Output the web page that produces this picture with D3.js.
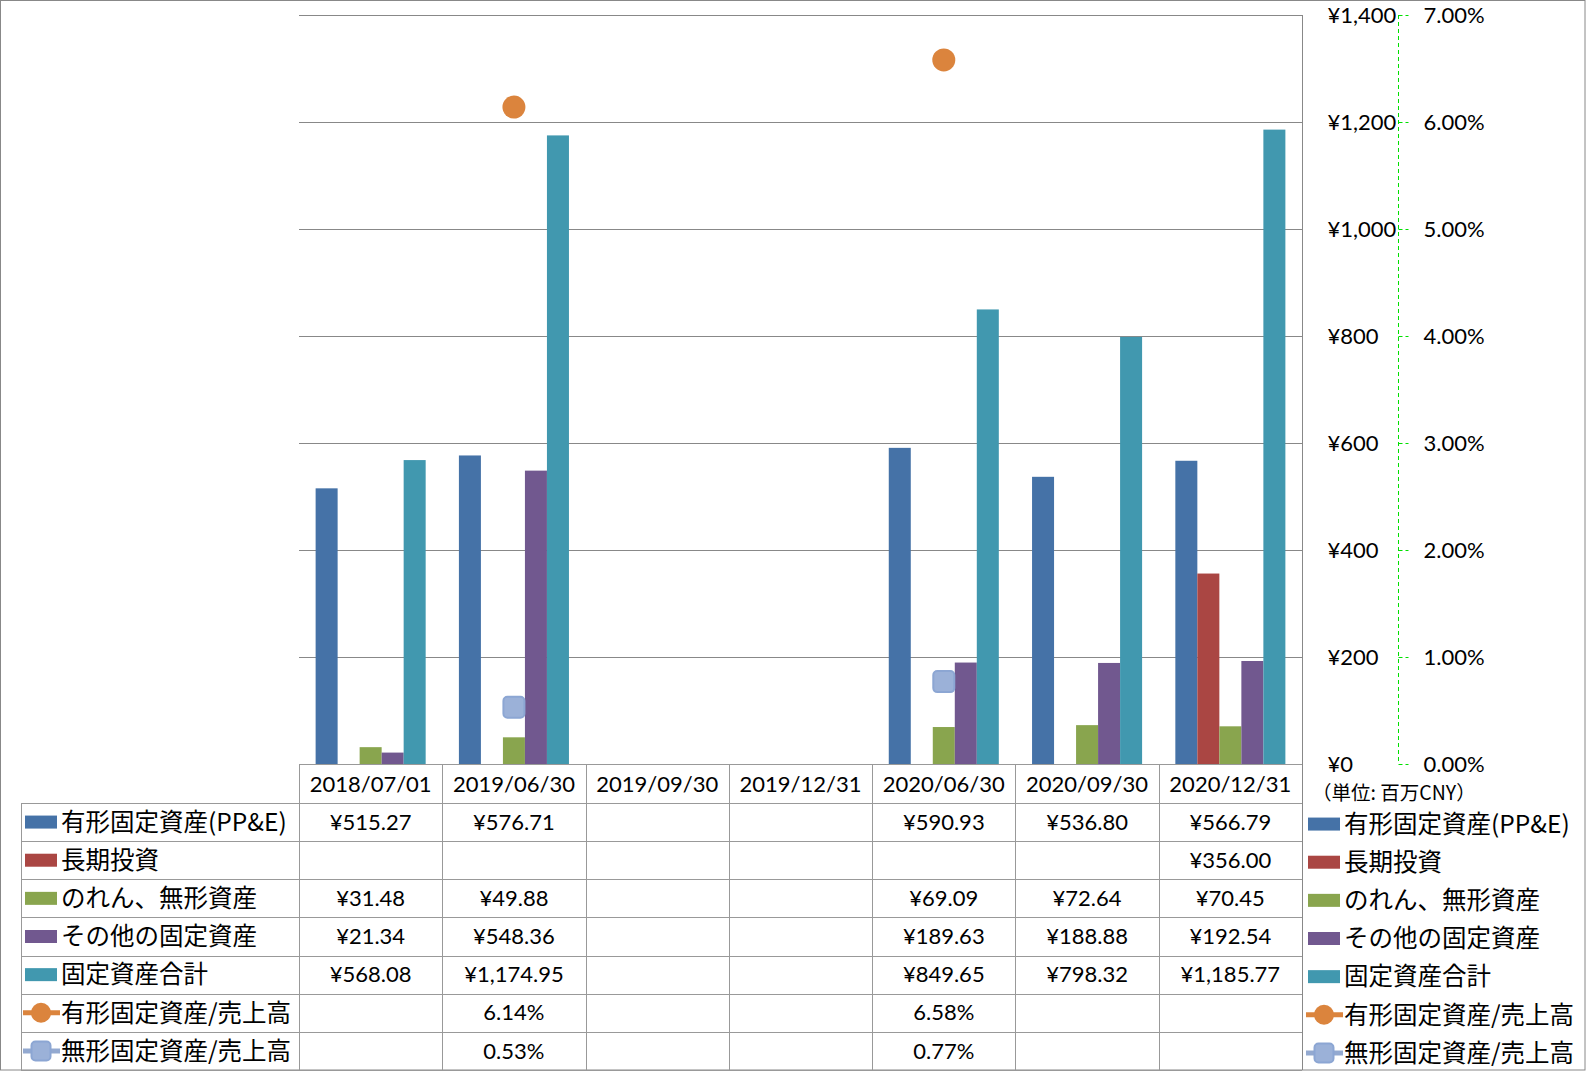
<!DOCTYPE html>
<html><head><meta charset="utf-8">
<script src="https://cdn.jsdelivr.net/npm/d3@7"></script>
<style>
html,body{margin:0;padding:0;background:#fff;}
svg{display:block;}
</style></head>
<body><svg id="chart" width="1586" height="1071"></svg>
<script>
// ---- data ----
const categories = ["2018/07/01","2019/06/30","2019/09/30","2019/12/31","2020/06/30","2020/09/30","2020/12/31"];
const ppe        = [515.27, 576.71, null, null, 590.93, 536.80, 566.79];
const longInv    = [null, null, null, null, null, null, 356.00];
const goodwill   = [31.48, 49.88, null, null, 69.09, 72.64, 70.45];
const otherFixed = [21.34, 548.36, null, null, 189.63, 188.88, 192.54];
const totalFixed = [568.08, 1174.95, null, null, 849.65, 798.32, 1185.77];
const ppeRatio        = [null, 0.0614, null, null, 0.0658, null, null];
const intangibleRatio = [null, 0.0053, null, null, 0.0077, null, null];
const barNames  = ["有形固定資産(PP&E)","長期投資","のれん、無形資産","その他の固定資産","固定資産合計"];
const lineNames = ["有形固定資産/売上高","無形固定資産/売上高"];
const yTicks  = [0,200,400,600,800,1000,1200,1400];
const y2Ticks = [0,0.01,0.02,0.03,0.04,0.05,0.06,0.07];
const unitLabel = "（単位: 百万CNY）";

const barSeries = [ppe, longInv, goodwill, otherFixed, totalFixed];
const lineSeries = [ppeRatio, intangibleRatio];
const barColors = ["#4572a7","#aa4643","#89a54e","#71588f","#4198af"];
const lineColors = ["#db843d","#93a9d0"];

// ---- layout ----
const W = 1586, H = 1071;
const plotL = 299, plotR = 1302, plotT = 15, plotB = 764;
const tableL = 21, tableB = 1070;
const rowH = (tableB - 803) / 7;
const latin = "Lato, 'Noto Sans CJK JP', sans-serif";
const cjk = "'Noto Sans CJK JP', sans-serif";

const svg = d3.select("#chart");
svg.append("rect").attr("x",0.5).attr("y",0.5).attr("width",W-1.5).attr("height",H-1.5)
  .attr("fill","#fff").attr("stroke","#888").attr("stroke-width",1);

const x = d3.scaleBand().domain(categories).range([plotL, plotR]);
const barGroupW = x.bandwidth() * 0.768;
const xs = d3.scaleBand().domain(d3.range(barSeries.length))
  .range([(x.bandwidth()-barGroupW)/2, (x.bandwidth()+barGroupW)/2]);
const y = d3.scaleLinear().domain([0,1400]).range([plotB, plotT]);
const y2 = d3.scaleLinear().domain([0,0.07]).range([plotB, plotT]);

// gridlines
svg.append("g").selectAll("line").data(yTicks.filter(d=>d>0)).join("line")
  .attr("x1",plotL).attr("x2",plotR)
  .attr("y1",d=>Math.round(y(d))+0.5).attr("y2",d=>Math.round(y(d))+0.5)
  .attr("stroke","#888").attr("stroke-width",1);

// bars
barSeries.forEach((vals,si)=>{
  svg.append("g").selectAll("rect").data(vals.map((v,i)=>({v,c:categories[i]})).filter(d=>d.v!=null))
    .join("rect")
    .attr("x",d=>x(d.c)+xs(si))
    .attr("width",xs.bandwidth())
    .attr("y",d=>y(d.v))
    .attr("height",d=>plotB-y(d.v))
    .attr("fill",barColors[si]);
});

// markers
const markerSize = 23;
svg.append("g").selectAll("circle")
  .data(ppeRatio.map((v,i)=>({v,c:categories[i]})).filter(d=>d.v!=null))
  .join("circle")
  .attr("cx",d=>x(d.c)+x.bandwidth()/2).attr("cy",d=>y2(d.v)).attr("r",markerSize/2)
  .attr("fill","#db843d");
svg.append("g").selectAll("rect")
  .data(intangibleRatio.map((v,i)=>({v,c:categories[i]})).filter(d=>d.v!=null))
  .join("rect")
  .attr("x",d=>x(d.c)+x.bandwidth()/2-markerSize/2+1).attr("y",d=>y2(d.v)-markerSize/2+1)
  .attr("width",markerSize-2).attr("height",markerSize-2).attr("rx",4)
  .attr("fill","#9bb1d8").attr("stroke","#8ca6d3").attr("stroke-width",2);

// primary axis (right side)
const axisY = d3.axisRight(y).tickValues(yTicks).tickSize(0)
  .tickFormat(d=>"¥"+d3.format(",")(d));
const gy = svg.append("g").attr("transform",`translate(${plotR+0.5},0)`).call(axisY);
gy.select(".domain").attr("stroke","#888").attr("d",`M0,${plotT}V${tableB}`);
gy.selectAll("text").attr("x",25).attr("text-anchor","start")
  .attr("font-family",latin).attr("font-size",22).attr("fill","#000");

// secondary axis
const axisY2 = d3.axisRight(y2).tickValues(y2Ticks).tickSize(10).tickPadding(15)
  .tickFormat(d3.format(".2%"));
const gy2 = svg.append("g").attr("transform",`translate(1398.5,0)`).call(axisY2);
gy2.select(".domain").attr("stroke","#00e000").attr("stroke-dasharray","4,3").attr("d",`M0,${plotT}V${plotB}`);
gy2.selectAll(".tick line").attr("stroke","#00e000").attr("stroke-dasharray","4,3");
gy2.selectAll("text").attr("font-family",latin).attr("font-size",22).attr("fill","#000").attr("text-anchor","start");

svg.append("text").attr("x",1312).attr("y",793).attr("dy","0.35em")
  .attr("font-family",cjk).attr("font-size",19.5).attr("fill","#000").text(unitLabel);

// ---- data table ----
const tg = svg.append("g");
const gridC = "#999";
tg.append("line").attr("x1",plotL).attr("x2",plotR).attr("y1",plotB+0.5).attr("y2",plotB+0.5).attr("stroke",gridC);
d3.range(8).forEach(i=>{
  const yy = Math.round(803 + i*rowH)+0.5;
  tg.append("line").attr("x1",tableL).attr("x2",plotR).attr("y1",yy).attr("y2",yy).attr("stroke",gridC);
});
categories.forEach(c=>{
  tg.append("line").attr("x1",Math.round(x(c))+0.5).attr("x2",Math.round(x(c))+0.5)
    .attr("y1",plotB).attr("y2",tableB).attr("stroke",gridC);
});
tg.append("line").attr("x1",tableL+0.5).attr("x2",tableL+0.5).attr("y1",803).attr("y2",tableB).attr("stroke",gridC);

tg.selectAll("text.hdr").data(categories).join("text").attr("class","hdr")
  .attr("x",d=>x(d)+x.bandwidth()/2).attr("y",(plotB+803)/2+1).attr("dy","0.35em")
  .attr("text-anchor","middle").attr("font-family",latin).attr("font-size",22).attr("fill","#000")
  .text(d=>d);

const allSeries = barSeries.concat(lineSeries);
const allNames = barNames.concat(lineNames);
const fmtMoney = v=>"¥"+d3.format(",.2f")(v);
const fmtPct = d3.format(".2%");

allSeries.forEach((vals,si)=>{
  const cy = 803 + si*rowH + rowH/2;
  const isLine = si >= barSeries.length;
  tg.append("g").selectAll("text").data(vals.map((v,i)=>({v,c:categories[i]})).filter(d=>d.v!=null))
    .join("text")
    .attr("x",d=>x(d.c)+x.bandwidth()/2).attr("y",cy).attr("dy","0.35em")
    .attr("text-anchor","middle").attr("font-family",latin).attr("font-size",22).attr("fill","#000")
    .text(d=>isLine?fmtPct(d.v):fmtMoney(d.v));
});

function drawKey(g, kx, cy, si){
  if(si < barSeries.length){
    g.append("rect").attr("x",kx+2).attr("y",cy-6.5).attr("width",32).attr("height",13).attr("fill",barColors[si]);
  } else {
    const li = si - barSeries.length;
    g.append("line").attr("x1",kx).attr("x2",kx+37).attr("y1",cy).attr("y2",cy)
      .attr("stroke",lineColors[li]).attr("stroke-width",5);
    if(li===0){
      g.append("circle").attr("cx",kx+18).attr("cy",cy).attr("r",10).attr("fill","#db843d");
    } else {
      g.append("rect").attr("x",kx+8.5).attr("y",cy-9.5).attr("width",19).attr("height",19).attr("rx",4)
        .attr("fill","#9bb1d8").attr("stroke","#8ca6d3").attr("stroke-width",2);
    }
  }
}
allNames.forEach((name,si)=>{
  const cy = 803 + si*rowH + rowH/2;
  drawKey(tg, 23, cy, si);
  tg.append("text").attr("x",61).attr("y",cy).attr("dy","0.36em")
    .attr("font-family",cjk).attr("font-size",24.5).attr("fill","#000").text(name);
  drawKey(tg, 1306, cy+2, si);
  tg.append("text").attr("x",1344).attr("y",cy+2).attr("dy","0.36em")
    .attr("font-family",cjk).attr("font-size",24.5).attr("fill","#000").text(name);
});
</script>
</body></html>
